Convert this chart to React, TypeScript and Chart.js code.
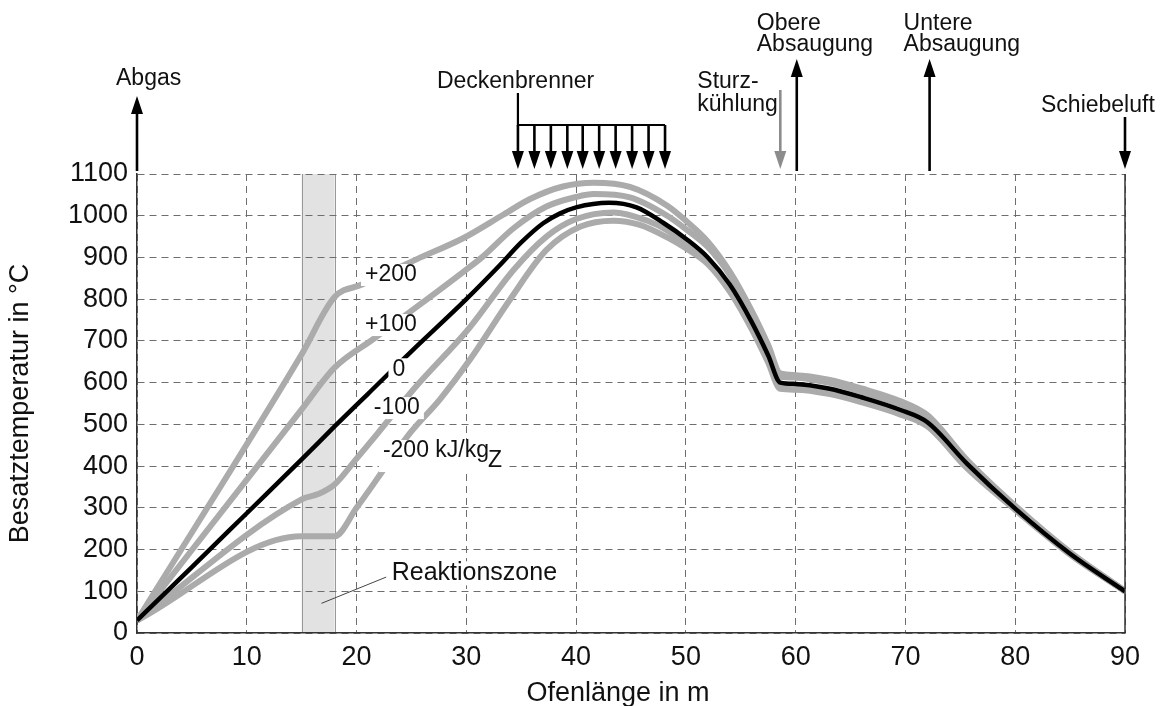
import React, { useEffect, useRef } from "react";
import { Chart, registerables } from "chart.js";

Chart.register(...registerables);

const FONT = '"Liberation Sans", Arial, Helvetica, sans-serif';

// Axis ticks
const xTickValues = [0, 10, 20, 30, 40, 50, 60, 70, 80, 90];
const yTickValues = [0, 100, 200, 300, 400, 500, 600, 700, 800, 900, 1000, 1100];

// Series: 0 kJ/kgZ (black)
const line0X = [0, 5, 10, 15, 18, 21, 25, 30, 33, 35, 37, 38.5, 40, 43, 45.5, 48, 50, 52, 54, 56, 57.5, 58.6, 60, 63, 66, 69.5, 72, 75.6, 80, 85, 90];
const line0Y = [30, 158, 287, 416, 495, 572, 675, 800, 880, 936, 982, 1005, 1020, 1031, 1020, 982, 945, 900, 835, 745, 665, 600, 597, 586, 565, 535, 505, 406, 298, 190, 100];

// Series: +200 kJ/kgZ
const plus200X = [0, 15, 18, 20.5, 25.5, 29.7, 33.4, 35.8, 38.8, 41.6, 44.9, 48.3, 50, 52, 54, 56, 57.5, 58.6, 60, 63, 66, 69.5, 72, 75.6, 80, 85, 90];
const plus200Y = [30, 668, 805, 835, 896, 946, 1003, 1040, 1070, 1079, 1069, 1024, 988, 938, 866, 772, 690, 622, 618, 607, 586, 556, 522, 415, 305, 194, 101];

// Series: +100 kJ/kgZ
const plus100X = [0, 15, 18, 21.5, 25.2, 29.7, 31.5, 34.3, 37.3, 40, 41.6, 44.9, 48.3, 50, 52, 54, 56, 57.5, 58.6, 60, 63, 66, 69.5, 72, 75.6, 80, 85, 90];
const plus100Y = [30, 536, 636, 704, 776, 865, 902, 970, 1022, 1045, 1052, 1044, 1000, 968, 925, 858, 765, 683, 614, 612, 600, 578, 548, 516, 410, 302, 192, 100];

// Series: -100 kJ/kgZ
const minus100X = [0, 15, 16.5, 18, 20, 21.85, 25.2, 30.3, 34.3, 37.3, 40, 43.4, 46.5, 48.3, 50, 52, 54, 56, 57.5, 58.6, 60, 63, 66, 69.5, 72, 75.6, 80, 85, 90];
const minus100Y = [30, 320, 333, 356, 418, 476, 584, 732, 870, 950, 992, 1008, 988, 965, 933, 890, 826, 735, 655, 592, 590, 580, 560, 530, 500, 400, 297, 189, 100];

// Series: -200 kJ/kgZ
const minus200X = [0, 15, 18, 20, 22.7, 24.9, 27.6, 30.3, 34, 37.3, 40.4, 43.4, 45.8, 48.3, 50, 52, 54, 56, 57.5, 58.6, 60, 63, 66, 69.5, 72, 75.6, 80, 85, 90];
const minus200Y = [30, 232, 232, 300, 400, 480, 560, 654, 800, 918, 974, 988, 978, 948, 922, 884, 818, 728, 648, 585, 583, 573, 553, 524, 495, 395, 295, 188, 100];

// Reaction zone (m)
const zoneStart = 15;
const zoneEnd = 18;

// Curve labels (data coordinates)
const curveLabelTexts = ["+200", "+100", "0", "-100"];
const curveLabelX = [23.13, 23.13, 23.85, 23.67];
const curveLabelY = [858, 738, 632, 539];
const unitLabel = { text: "-200 kJ/kg", sub: "Z", x: 22.4, y: 436 };
const zoneLabel = { text: "Reaktionszone", x: 23.2, y: 143, lineFromX: 16.8, lineFromY: 71, lineToX: 22.7, lineToY: 134 };

// Process markers along the kiln (m)
const abgasX = 0;
const burnerX = [34.7, 36.2, 37.7, 39.2, 40.6, 42.1, 43.6, 45.1, 46.6, 48.1];
const sturzX = 58.6;
const obereX = 60.1;
const untereX = 72.2;
const schiebeX = 90;

const GRAY = "#ababab";

function pts(xs: number[], ys: number[]) {
  return xs.map((x, i) => ({ x, y: ys[i] }));
}

function arrow(ctx: CanvasRenderingContext2D, px: number, y0: number, y1: number, color: string) {
  const dir = Math.sign(y1 - y0);
  const hl = 18;
  const hw = 12;
  ctx.save();
  ctx.strokeStyle = color;
  ctx.fillStyle = color;
  ctx.lineWidth = 2.6;
  ctx.beginPath();
  ctx.moveTo(px, y0);
  ctx.lineTo(px, y1 - dir * (hl - 2));
  ctx.stroke();
  ctx.beginPath();
  ctx.moveTo(px, y1);
  ctx.lineTo(px - hw / 2, y1 - dir * hl);
  ctx.lineTo(px + hw / 2, y1 - dir * hl);
  ctx.closePath();
  ctx.fill();
  ctx.restore();
}

const annotPlugin = {
  id: "annot",
  beforeDraw(chart: any) {
    const { ctx, chartArea: a, scales } = chart;
    const x1 = scales.x.getPixelForValue(zoneStart);
    const x2 = scales.x.getPixelForValue(zoneEnd);
    ctx.save();
    ctx.fillStyle = "#e2e2e2";
    ctx.fillRect(x1, a.top, x2 - x1, a.bottom - a.top);
    ctx.strokeStyle = "#999";
    ctx.lineWidth = 1;
    ctx.beginPath();
    ctx.moveTo(Math.round(x1) + 0.5, a.top);
    ctx.lineTo(Math.round(x1) + 0.5, a.bottom);
    ctx.moveTo(Math.round(x2) + 0.5, a.top);
    ctx.lineTo(Math.round(x2) + 0.5, a.bottom);
    ctx.stroke();
    ctx.restore();
  },
  afterDatasetsDraw(chart: any) {
    const { ctx, chartArea: a, scales } = chart;
    const sx = scales.x;
    const sy = scales.y;
    ctx.save();
    // right border
    ctx.strokeStyle = "#333";
    ctx.lineWidth = 1.5;
    ctx.beginPath();
    ctx.moveTo(a.right, a.top);
    ctx.lineTo(a.right, a.bottom);
    ctx.stroke();

    // curve labels
    ctx.font = `23px ${FONT}`;
    ctx.textBaseline = "middle";
    ctx.textAlign = "center";
    curveLabelTexts.forEach((t, i) => {
      const cx = sx.getPixelForValue(curveLabelX[i]);
      const cy = sy.getPixelForValue(curveLabelY[i]);
      const w = ctx.measureText(t).width;
      ctx.fillStyle = "#fff";
      ctx.fillRect(cx - w / 2 - 4, cy - 11, w + 8, 22);
      ctx.fillStyle = "#111";
      ctx.fillText(t, cx, cy);
    });

    // unit label with subscript
    {
      const lx = sx.getPixelForValue(unitLabel.x);
      const ly = sy.getPixelForValue(unitLabel.y);
      ctx.textAlign = "left";
      const w1 = ctx.measureText(unitLabel.text).width;
      const w2 = ctx.measureText(unitLabel.sub).width;
      ctx.fillStyle = "#fff";
      ctx.fillRect(lx - 4, ly - 11, w1 + w2 + 8, 32);
      ctx.fillStyle = "#111";
      ctx.fillText(unitLabel.text, lx, ly);
      ctx.fillText(unitLabel.sub, lx + w1 - 1, ly + 10);
    }

    // reaction zone label
    {
      ctx.strokeStyle = "#444";
      ctx.lineWidth = 1;
      ctx.beginPath();
      ctx.moveTo(sx.getPixelForValue(zoneLabel.lineFromX), sy.getPixelForValue(zoneLabel.lineFromY));
      ctx.lineTo(sx.getPixelForValue(zoneLabel.lineToX), sy.getPixelForValue(zoneLabel.lineToY));
      ctx.stroke();
      ctx.font = `25px ${FONT}`;
      const lx = sx.getPixelForValue(zoneLabel.x);
      const ly = sy.getPixelForValue(zoneLabel.y);
      const w = ctx.measureText(zoneLabel.text).width;
      ctx.fillStyle = "#fff";
      ctx.fillRect(lx - 3, ly - 12, w + 6, 24);
      ctx.fillStyle = "#111";
      ctx.textAlign = "left";
      ctx.fillText(zoneLabel.text, lx, ly);
    }
    ctx.restore();
  },
  afterDraw(chart: any) {
    const { ctx, chartArea: a, scales } = chart;
    const sx = scales.x;
    const top = a.top;
    ctx.save();
    ctx.fillStyle = "#111";
    ctx.textBaseline = "alphabetic";
    ctx.textAlign = "left";
    ctx.font = `23px ${FONT}`;

    // Abgas
    const pA = sx.getPixelForValue(abgasX);
    arrow(ctx, pA, top - 3, top - 78, "#000");
    ctx.fillText("Abgas", pA - 21, top - 89);

    // Deckenbrenner
    const pb = burnerX.map((v) => sx.getPixelForValue(v));
    ctx.fillText("Deckenbrenner", pb[0] - 81, top - 86);
    ctx.strokeStyle = "#000";
    ctx.lineWidth = 2.2;
    ctx.beginPath();
    ctx.moveTo(pb[0], top - 81);
    ctx.lineTo(pb[0], top - 49);
    ctx.lineTo(pb[pb.length - 1], top - 49);
    ctx.stroke();
    pb.forEach((p) => arrow(ctx, p, top - 49, top - 5, "#000"));

    // Sturzkühlung
    const ps = sx.getPixelForValue(sturzX);
    arrow(ctx, ps, top - 84, top - 5, "#8c8c8c");
    ctx.fillStyle = "#111";
    ctx.fillText("Sturz-", ps - 83, top - 86);
    ctx.fillText("kühlung", ps - 83, top - 63);

    // Obere Absaugung
    const po = sx.getPixelForValue(obereX);
    arrow(ctx, po, top - 3, top - 115, "#000");
    ctx.fillStyle = "#111";
    ctx.fillText("Obere", po - 40, top - 144);
    ctx.fillText("Absaugung", po - 40, top - 123);

    // Untere Absaugung
    const pu = sx.getPixelForValue(untereX);
    arrow(ctx, pu, top - 3, top - 115, "#000");
    ctx.fillStyle = "#111";
    ctx.fillText("Untere", pu - 26, top - 144);
    ctx.fillText("Absaugung", pu - 26, top - 123);

    // Schiebeluft
    const pz = sx.getPixelForValue(schiebeX);
    arrow(ctx, pz, top - 57, top - 5, "#000");
    ctx.fillStyle = "#111";
    ctx.fillText("Schiebeluft", pz - 84, top - 62);

    // Axis titles
    ctx.font = `27px ${FONT}`;
    ctx.textAlign = "center";
    ctx.fillText("Ofenlänge in m", 618, 701);
    ctx.save();
    ctx.translate(21, (a.top + a.bottom) / 2);
    ctx.rotate(-Math.PI / 2);
    ctx.textBaseline = "middle";
    ctx.fillText("Besatztemperatur in °C", 0, 0);
    ctx.restore();
    ctx.restore();
  },
};

export default function App() {
  const ref = useRef<HTMLCanvasElement | null>(null);

  useEffect(() => {
    if (!ref.current) return;
    const grayDs = (xs: number[], ys: number[]) => ({
      data: pts(xs, ys),
      borderColor: GRAY,
      borderWidth: 6,
      pointRadius: 0,
      cubicInterpolationMode: "monotone" as const,
      order: 2,
    });
    const chart = new Chart(ref.current, {
      type: "line",
      data: {
        datasets: [
          {
            data: pts(line0X, line0Y),
            borderColor: "#000",
            borderWidth: 4.5,
            pointRadius: 0,
            cubicInterpolationMode: "monotone",
            order: 0,
          },
          grayDs(plus200X, plus200Y),
          grayDs(plus100X, plus100Y),
          grayDs(minus100X, minus100Y),
          grayDs(minus200X, minus200Y),
        ],
      },
      options: {
        animation: false,
        responsive: false,
        layout: { padding: { left: 0, top: 174, right: 35, bottom: 0 } },
        plugins: { legend: { display: false }, tooltip: { enabled: false } },
        scales: {
          x: {
            type: "linear",
            min: 0,
            max: 90,
            afterFit: (s: any) => {
              s.height = 73;
            },
            afterBuildTicks: (s: any) => {
              s.ticks = xTickValues.map((v) => ({ value: v }));
            },
            ticks: {
              font: { family: FONT, size: 27 },
              color: "#111",
              padding: 8,
              maxRotation: 0,
              autoSkip: false,
              callback: (v: any) => String(v),
            },
            grid: { color: "#6e6e6e", lineWidth: 1, drawTicks: false },
            border: { display: true, color: "#333", width: 1.5, dash: [7, 5] },
          },
          y: {
            type: "linear",
            min: 0,
            max: 1100,
            afterFit: (s: any) => {
              s.width = 137;
            },
            afterBuildTicks: (s: any) => {
              s.ticks = yTickValues.map((v) => ({ value: v }));
            },
            ticks: {
              font: { family: FONT, size: 27 },
              color: "#111",
              padding: 9,
              autoSkip: false,
              callback: (v: any) => String(v),
            },
            grid: { color: "#6e6e6e", lineWidth: 1, drawTicks: false },
            border: { display: true, color: "#333", width: 1.5, dash: [7, 5] },
          },
        },
      },
      plugins: [annotPlugin],
    });
    return () => chart.destroy();
  }, []);

  return (
    <div style={{ position: "fixed", left: 0, top: 0, width: 1160, height: 706, background: "#fff" }}>
      <canvas ref={ref} width={1160} height={706} style={{ display: "block" }} />
    </div>
  );
}
